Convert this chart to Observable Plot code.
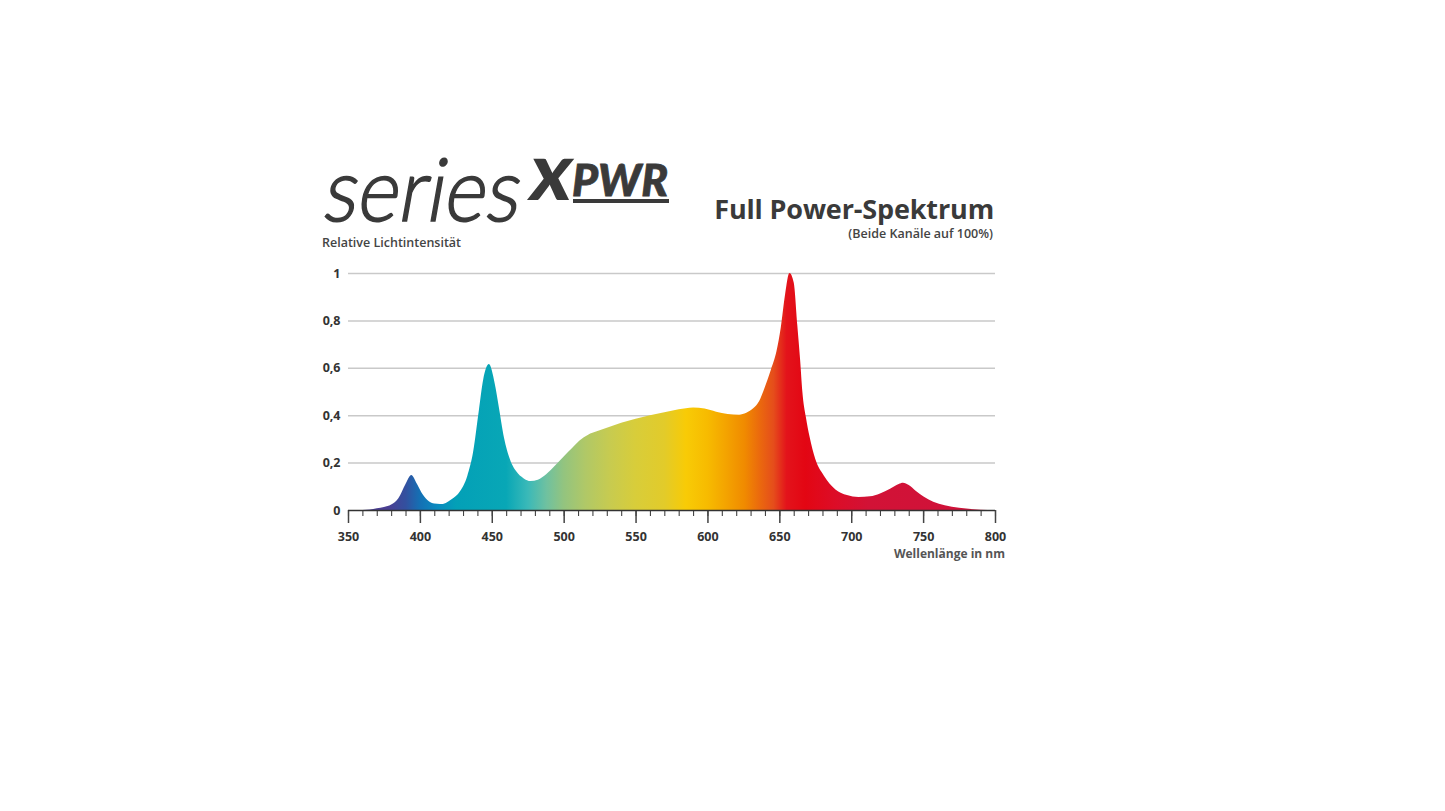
<!DOCTYPE html>
<html>
<head>
<meta charset="utf-8">
<script src="https://cdn.jsdelivr.net/npm/d3@7"></script>
<script src="https://cdn.jsdelivr.net/npm/@observablehq/plot@0.6"></script>
<style>
  body { margin: 0; background: #fff; }
  #wrap { position: relative; width: 1445px; height: 811px; overflow: hidden; }
  #chart { position: absolute; left: 300px; top: 255px; }
  #overlay { position: absolute; left: 0; top: 0; pointer-events: none; }
</style>
</head>
<body>
<div id="wrap">
  <div id="chart"></div>
  <svg id="overlay" width="1445" height="811">
    <g transform="translate(321,221) skewX(-10)">
      <text x="0" y="0" font-family="Lato" font-weight="300" font-size="88" fill="#3a3a3a" stroke="#3a3a3a" stroke-width="1.6" textLength="196" lengthAdjust="spacingAndGlyphs">series</text>
    </g>
    <g transform="translate(527,200) skewX(-8)">
      <text x="0" y="0" font-family="Lato" font-weight="900" font-size="80" fill="#3a3a3a" textLength="42" lengthAdjust="spacingAndGlyphs">x</text>
    </g>
    <text x="572" y="196" font-family="Lato" font-weight="900" font-style="italic" font-size="43" fill="#3a3a3a" stroke="#3a3a3a" stroke-width="0.8" textLength="96" lengthAdjust="spacingAndGlyphs">PWR</text>
    <rect x="573" y="199" width="96" height="4" fill="#3a3a3a"></rect>
    <text x="322" y="247" font-family="Open Sans" font-weight="600" font-size="12.5" fill="#444">Relative Lichtintensität</text>
    <text x="994" y="219" text-anchor="end" font-family="Open Sans" font-weight="700" font-size="27" letter-spacing="-0.15" fill="#3a3a3a">Full Power-Spektrum</text>
    <text x="993" y="238" text-anchor="end" font-family="Open Sans" font-weight="600" font-size="12.5" fill="#444">(Beide Kanäle auf 100%)</text>
    <text x="1005" y="558" text-anchor="end" font-family="Open Sans" font-weight="700" font-size="12" fill="#555">Wellenlänge in nm</text>
  </svg>
</div>
<script>
// Wavelength (nm) and relative intensity
const wavelength = [350, 360, 365, 370, 375, 380, 385, 390, 394, 398, 402, 406, 410, 414, 418, 422, 428, 433, 437, 441, 444, 448, 452, 455, 458, 462, 467, 472, 477, 482, 488, 494, 500, 506, 511, 517, 523, 530, 540, 550, 560, 570, 580, 590, 598, 606, 614, 622, 627, 632, 636, 640, 644, 648, 651, 654, 657, 660, 662.5, 664.5, 666, 668.5, 671, 675, 681, 689, 697, 705, 713, 720, 727, 733, 736, 740, 745, 750, 757, 765, 775, 785, 795, 800];
const intensity  = [0, 0, 0.002, 0.007, 0.013, 0.023, 0.05, 0.11, 0.148, 0.11, 0.065, 0.038, 0.027, 0.025, 0.03, 0.045, 0.08, 0.145, 0.245, 0.42, 0.55, 0.616, 0.535, 0.43, 0.32, 0.225, 0.163, 0.134, 0.122, 0.128, 0.152, 0.188, 0.226, 0.263, 0.293, 0.318, 0.332, 0.347, 0.368, 0.385, 0.4, 0.412, 0.425, 0.433, 0.428, 0.415, 0.405, 0.402, 0.41, 0.43, 0.46, 0.52, 0.59, 0.67, 0.77, 0.91, 1.0, 0.96, 0.78, 0.63, 0.5, 0.39, 0.31, 0.215, 0.145, 0.087, 0.063, 0.055, 0.058, 0.07, 0.09, 0.11, 0.115, 0.105, 0.08, 0.058, 0.035, 0.02, 0.009, 0.003, 0, 0];

const yTicks = [0, 0.2, 0.4, 0.6, 0.8, 1];
const yTickLabels = ["0", "0,2", "0,4", "0,6", "0,8", "1"];
const xMajor = [350, 400, 450, 500, 550, 600, 650, 700, 750, 800];
const xMinor = d3.range(350, 801, 10);

// spectral colour stops (nm -> colour)
const stopNm    = [350, 378, 390, 400, 412, 425, 460, 475, 488, 500, 515, 532, 550, 570, 585, 600, 612, 626, 636, 646, 655, 668, 690, 712, 800];
const stopColor = ["#4a3c91", "#4a3f93", "#33509f", "#1470b4", "#0a8abf", "#03a0b7", "#08a7b6", "#3ab9b8", "#6fc1a0", "#93c47f", "#b0c867", "#c7cb50", "#d8cd3a", "#e2cb2a", "#f8cb06", "#f7bb00", "#f4a500", "#f08a00", "#eb6a0d", "#e54d1b", "#e3131b", "#e30613", "#dc0d28", "#d21236", "#cf123b"];

const data = wavelength.map((w, i) => ({w, v: intensity[i]}));

const gradient = () => {
  const ns = "http://www.w3.org/2000/svg";
  const defs = document.createElementNS(ns, "defs");
  const lg = document.createElementNS(ns, "linearGradient");
  lg.setAttribute("id", "spec");
  lg.setAttribute("x1", "0"); lg.setAttribute("x2", "1");
  lg.setAttribute("y1", "0"); lg.setAttribute("y2", "0");
  const lo = d3.min(wavelength), hi = d3.max(wavelength);
  stopNm.forEach((nm, i) => {
    const s = document.createElementNS(ns, "stop");
    s.setAttribute("offset", ((nm - lo) / (hi - lo)).toFixed(4));
    s.setAttribute("stop-color", stopColor[i]);
    lg.appendChild(s);
  });
  defs.appendChild(lg);
  return defs;
};

const chart = Plot.plot({
  width: 740,
  height: 320,
  marginLeft: 48,
  marginRight: 45,
  marginTop: 18,
  marginBottom: 65,
  style: {fontFamily: "Open Sans", background: "transparent"},
  x: {domain: [350, 800]},
  y: {domain: [0, 1]},
  marks: [
    gradient,
    Plot.gridY(yTicks.filter(d => d > 0), {stroke: "#c9c9c9", strokeOpacity: 1, strokeWidth: 1.5}),
    Plot.areaY(data, {x: "w", y: "v", curve: "monotone-x", fill: "url(#spec)"}),
    Plot.axisY({ticks: yTicks, tickSize: 0, tickPadding: 8, tickFormat: d => yTickLabels[yTicks.indexOf(d)], fontSize: 12.5, fontWeight: 700, fill: "#333", label: null}),
    Plot.axisX({ticks: xMinor, tickSize: 6, tickFormat: () => "", stroke: "#444", strokeWidth: 1.1, label: null}),
    Plot.axisX({ticks: xMajor, tickSize: 13, tickPadding: 9, tickFormat: d => String(d), fontSize: 12.5, fontWeight: 700, fill: "#333", stroke: "#444", strokeWidth: 1.5, label: null}),
    Plot.ruleY([0], {stroke: "#333", strokeWidth: 1.6})
  ]
});
document.getElementById("chart").appendChild(chart);
</script>
</body>
</html>
